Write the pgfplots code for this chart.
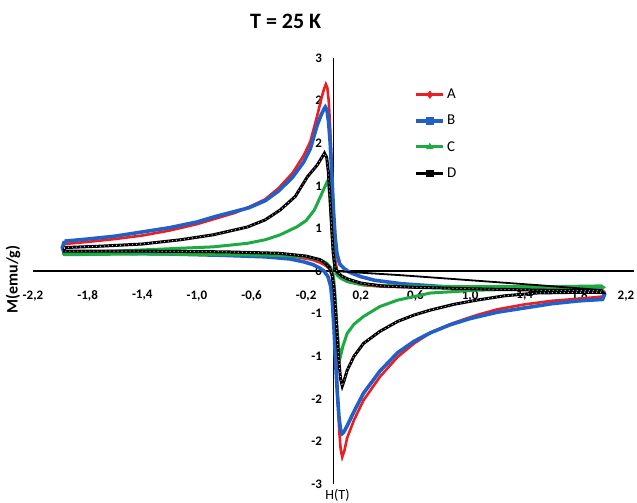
\documentclass[border=0pt]{standalone}
\usepackage{pgfplots}
\usepackage{pgfplotstable}
\pgfplotsset{compat=1.18}
\usepackage{fontspec}
\setmainfont{Carlito}
\definecolor{cA}{RGB}{235,30,36}
\definecolor{cB}{RGB}{34,96,200}
\definecolor{cC}{RGB}{30,170,66}
\definecolor{cD}{RGB}{0,0,0}
\definecolor{dotD}{RGB}{200,180,225}

\pgfplotstableread{
x y
-1.97 0.38
-1.80 0.41
-1.60 0.45
-1.40 0.50
-1.20 0.57
-1.00 0.66
-0.86 0.74
-0.72 0.82
-0.62 0.90
-0.50 1.01
-0.40 1.17
-0.30 1.38
-0.22 1.62
-0.17 1.82
-0.12 2.18
-0.09 2.42
-0.07 2.56
-0.056 2.63
-0.045 2.58
-0.035 2.40
-0.025 2.05
-0.015 1.55
-0.005 0.95
0.005 0.45
0.015 0.12
0.03 -0.02
0.06 -0.08
0.10 -0.13
0.15 -0.17
0.22 -0.20
0.35 -0.22
0.60 -0.23
1.00 -0.24
1.50 -0.25
1.96 -0.26
1.985 -0.30
1.97 -0.36
1.80 -0.39
1.60 -0.42
1.40 -0.47
1.20 -0.54
1.05 -0.62
0.88 -0.73
0.71 -0.87
0.59 -1.02
0.47 -1.21
0.34 -1.49
0.22 -1.82
0.15 -2.10
0.10 -2.35
0.08 -2.53
0.064 -2.62
0.052 -2.50
0.042 -2.25
0.032 -1.85
0.022 -1.35
0.012 -0.80
0.002 -0.35
-0.01 -0.08
-0.03 0.03
-0.06 0.08
-0.10 0.12
-0.16 0.16
-0.25 0.19
-0.40 0.22
-0.70 0.24
-1.00 0.25
-1.50 0.25
-1.97 0.24
-1.985 0.31
-1.97 0.38
}\tabA

\pgfplotstableread{
x y
-1.97 0.42
-1.80 0.45
-1.60 0.49
-1.40 0.55
-1.20 0.61
-1.00 0.69
-0.86 0.77
-0.72 0.84
-0.62 0.89
-0.50 0.99
-0.40 1.13
-0.30 1.32
-0.22 1.53
-0.17 1.72
-0.12 2.05
-0.09 2.20
-0.07 2.28
-0.06 2.31
-0.048 2.27
-0.036 2.10
-0.024 1.80
-0.012 1.35
0.000 0.85
0.012 0.48
0.025 0.25
0.045 0.10
0.08 0.03
0.12 -0.02
0.20 -0.08
0.30 -0.13
0.50 -0.18
0.80 -0.22
1.20 -0.24
1.60 -0.26
1.96 -0.27
1.985 -0.33
1.97 -0.40
1.80 -0.42
1.60 -0.46
1.40 -0.52
1.20 -0.58
1.00 -0.67
0.85 -0.76
0.71 -0.87
0.59 -0.99
0.47 -1.15
0.34 -1.41
0.22 -1.72
0.15 -1.98
0.10 -2.18
0.075 -2.27
0.064 -2.29
0.052 -2.24
0.040 -2.05
0.028 -1.72
0.016 -1.30
0.004 -0.82
-0.008 -0.45
-0.02 -0.22
-0.04 -0.08
-0.07 0.00
-0.10 0.04
-0.15 0.09
-0.22 0.13
-0.32 0.17
-0.50 0.20
-0.80 0.22
-1.20 0.24
-1.60 0.25
-1.97 0.25
-1.985 0.33
-1.97 0.42
}\tabB

\pgfplotstableread{
x y
-1.97 0.25
-1.60 0.28
-1.12 0.32
-0.88 0.34
-0.63 0.39
-0.50 0.44
-0.39 0.51
-0.27 0.62
-0.20 0.71
-0.14 0.86
-0.095 1.05
-0.065 1.18
-0.045 1.26
-0.035 1.20
-0.025 1.00
-0.015 0.70
-0.005 0.38
0.005 0.12
0.02 -0.04
0.05 -0.10
0.10 -0.15
0.20 -0.19
0.40 -0.21
0.80 -0.22
1.20 -0.22
1.60 -0.22
1.96 -0.21
1.975 -0.23
1.96 -0.25
1.50 -0.25
1.05 -0.27
0.71 -0.31
0.47 -0.41
0.34 -0.50
0.22 -0.64
0.15 -0.75
0.10 -0.88
0.07 -1.05
0.05 -1.21
0.04 -1.12
0.03 -0.90
0.02 -0.60
0.01 -0.30
0.00 -0.08
-0.02 0.05
-0.05 0.11
-0.10 0.16
-0.20 0.20
-0.40 0.22
-0.80 0.23
-1.40 0.24
-1.97 0.23
-1.975 0.24
-1.97 0.25
}\tabC

\pgfplotstableread{
x y
-1.97 0.33
-1.70 0.35
-1.40 0.38
-1.12 0.44
-0.88 0.51
-0.63 0.62
-0.50 0.72
-0.39 0.86
-0.28 1.05
-0.19 1.33
-0.12 1.49
-0.066 1.66
-0.05 1.60
-0.038 1.40
-0.026 1.05
-0.014 0.62
-0.002 0.25
0.01 0.06
0.03 -0.02
0.06 -0.07
0.10 -0.11
0.20 -0.17
0.35 -0.21
0.60 -0.23
1.00 -0.25
1.50 -0.27
1.96 -0.28
1.97 -0.30
1.80 -0.30
1.49 -0.31
1.25 -0.35
1.05 -0.41
0.88 -0.47
0.71 -0.55
0.59 -0.62
0.47 -0.71
0.34 -0.85
0.22 -1.02
0.15 -1.20
0.10 -1.40
0.075 -1.56
0.064 -1.62
0.052 -1.52
0.040 -1.28
0.028 -0.95
0.016 -0.58
0.004 -0.25
-0.01 -0.05
-0.03 0.05
-0.06 0.11
-0.10 0.16
-0.20 0.21
-0.40 0.25
-0.80 0.27
-1.40 0.28
-1.97 0.28
-1.97 0.33
}\tabD

\pgfplotstableread{
x y
0.00 0.00
0.50 -0.06
1.00 -0.13
1.50 -0.20
1.97 -0.27
}\tabDline

\begin{document}
\begin{tikzpicture}
\begin{axis}[
  scale only axis,
  width=601bp, height=426bp,
  xmin=-2.2, xmax=2.2, ymin=-3, ymax=3,
  axis lines=middle,
  axis line style={line width=1.3bp, -},
  clip=false,
  major tick length=0pt,
  hide obscured x ticks=false, hide obscured y ticks=false,
  xtick={-2.2,-1.8,-1.4,-1.0,-0.6,-0.2,0.2,0.6,1.0,1.4,1.8,2.2},
  xticklabels={{-2,2},{-1,8},{-1,4},{-1,0},{-0,6},{-0,2},{0,2},{0,6},{1,0},{1,4},{1,8},{2,2\hspace*{16bp}}},
  ytick={-3,-2.4,-1.8,-1.2,-0.6,0,0.6,1.2,1.8,2.4,3},
  yticklabels={-3,-2,-2,-1,-1,0,1,1,2,2,3},
  tick label style={font=\bfseries\fontsize{13bp}{15bp}\selectfont},
  x tick label style={yshift=-16bp},
  y tick label style={xshift=-8bp},
  legend style={at={(axis cs:0.57,2.62)}, anchor=north west, draw=none, fill=none,
    font=\fontsize{15bp}{17bp}\selectfont, row sep=11bp, cells={anchor=west}},
  legend image code/.code={
    \draw[#1, mark=none] (0bp,0bp) -- (27bp,0bp);
    \draw[#1, mark repeat=1, mark phase=1] plot coordinates {(13.5bp,0bp)};
  },
]
\coordinate (BL) at (rel axis cs:0,0);
\addplot[cA, line width=2.6bp, mark=diamond*, mark size=3.8bp, mark options={line width=0.5bp}, mark repeat=100000, mark phase=100000] table {\tabA};
\addlegendentry{A}
\addplot[cB, line width=3.6bp, mark=square*, mark size=3.2bp, mark options={line width=0.5bp}, mark repeat=100000, mark phase=100000] table {\tabB};
\addlegendentry{B}
\addplot[cC, line width=3bp, mark=triangle*, mark size=3.8bp, mark options={line width=0.5bp}, mark repeat=100000, mark phase=100000] table {\tabC};
\addlegendentry{C}
\addplot[cD, line width=3bp, mark=square*, mark size=3.2bp, mark options={line width=0.5bp}, mark repeat=100000, mark phase=100000] table {\tabD};
\addlegendentry{D}
\addplot[forget plot, cD, line width=1.8bp] table {\tabDline};
\addplot[forget plot, dotD, line width=1.3bp, line cap=round, dash pattern=on 0.01bp off 4bp] table {\tabD};
\node[font=\bfseries\fontsize{22bp}{22bp}\selectfont] at (axis cs:-0.35,3.52) {T = 25 K};
\node[rotate=90, font=\bfseries\fontsize{16bp}{18bp}\selectfont] at ([xshift=-20bp]axis cs:-2.2,-0.12) {M(emu/g)};
\node[font=\fontsize{14bp}{16bp}\selectfont] at ([yshift=-11bp, xshift=4bp]axis cs:0,-3) {H(T)};
\end{axis}
\pgfresetboundingbox
\path (BL) ++(-33bp,-19bp) rectangle ++(637bp,503bp);
\end{tikzpicture}
\end{document}
